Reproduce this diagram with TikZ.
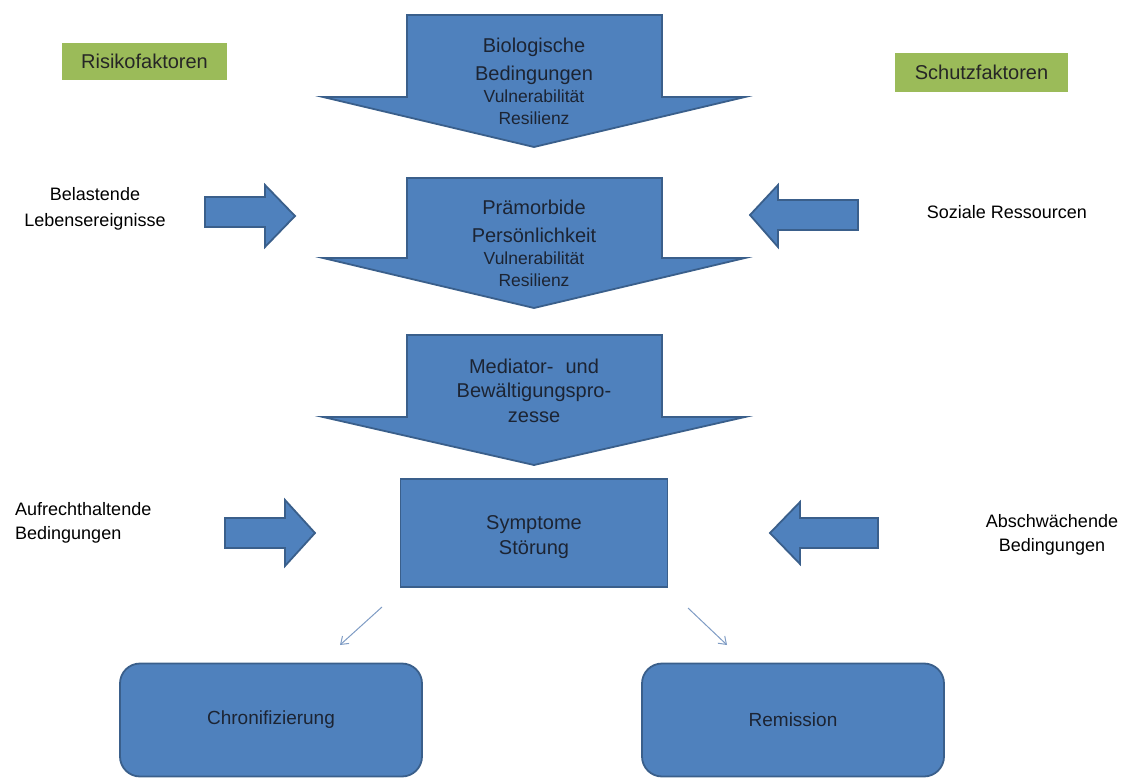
\documentclass[tikz,border=0pt]{standalone}
\usepackage{fontspec}
\setmainfont{Liberation Sans}
\definecolor{bfill}{HTML}{4F81BD}
\definecolor{bline}{HTML}{3A5F8B}
\definecolor{gfill}{HTML}{9BBB59}
\definecolor{txt}{HTML}{1C2433}
\definecolor{thin}{HTML}{7F9CC4}
\tikzset{
  blueshape/.style={fill=bfill, draw=bline, line width=1.8pt, line join=miter},
  big/.style={font=\fontsize{20}{24}\selectfont, text=txt, anchor=base, inner sep=0pt},
  small/.style={font=\fontsize{17.5}{21}\selectfont, text=txt, anchor=base, inner sep=0pt},
  side/.style={font=\fontsize{18}{21}\selectfont, text=black, anchor=base, inner sep=0pt},
  greenlabel/.style={fill=gfill, text=black!85, font=\fontsize{20}{24}\selectfont, minimum height=37pt, inner sep=0pt},
  roundbox/.style={fill=bfill, draw=bline, line width=1.8pt, rounded corners=20pt, minimum width=302pt, minimum height=113pt, font=\fontsize{19}{23}\selectfont, text=txt, inner sep=0pt},
  thinarrow/.style={draw=thin, line width=1pt, -{Straight Barb[length=7pt, width=10pt]}},
}
\usetikzlibrary{arrows.meta}
\begin{document}
\begin{tikzpicture}[x=1pt, y=-1pt]
\useasboundingbox (0,0) rectangle (1125,778);

% green labels
\node[greenlabel, minimum width=165pt] (risk) at (144.5,61.5) {Risikofaktoren};
\node[greenlabel, minimum width=173pt, minimum height=39pt] (schutz) at (981.5,72.5) {Schutzfaktoren};

% big arrow 1
\draw[blueshape] (407,15) -- (662,15) -- (662,97) -- (745,97) -- (534,147) -- (323,97) -- (407,97) -- cycle;
\node[big] (a1l1) at (534,53) {Biologische};
\node[big] (a1l2) at (534,81) {Bedingungen};
\node[small] (a1l3) at (534,103) {Vulnerabilität};
\node[small] (a1l4) at (534,125) {Resilienz};

% big arrow 2
\draw[blueshape] (407,178) -- (662,178) -- (662,258) -- (745,258) -- (534,308) -- (323,258) -- (407,258) -- cycle;
\node[big] (a2l1) at (534,215) {Prämorbide};
\node[big] (a2l2) at (534,243) {Persönlichkeit};
\node[small] (a2l3) at (534,265) {Vulnerabilität};
\node[small] (a2l4) at (534,287) {Resilienz};

% big arrow 3
\draw[blueshape] (407,335) -- (662,335) -- (662,417) -- (745,417) -- (534,465) -- (323,417) -- (407,417) -- cycle;
\node[big] (a3l1) at (534,373) {Mediator-\hspace{0.6em}und};
\node[big] (a3l2) at (534,397) {Bewältigungspro-};
\node[big] (a3l3) at (534,422) {zesse};

% symptom box
\node[fill=bfill, draw=bline, line width=1.8pt, minimum width=267pt, minimum height=108pt, inner sep=0pt] (sym) at (534,533) {};
\node[big] (sym1) at (534,529) {Symptome};
\node[big] (sym2) at (534,554) {Störung};

% side arrows row 1
\draw[blueshape] (205,197) -- (265,197) -- (265,185) -- (295,216) -- (265,247) -- (265,227) -- (205,227) -- cycle;
\draw[blueshape] (858,200) -- (778,200) -- (778,185) -- (750,215) -- (778,247) -- (778,230) -- (858,230) -- cycle;
% side arrows row 2
\draw[blueshape] (225,518) -- (285,518) -- (285,500) -- (315,533) -- (285,566) -- (285,548) -- (225,548) -- cycle;
\draw[blueshape] (878,518) -- (800,518) -- (800,502) -- (770,533) -- (800,564) -- (800,548) -- (878,548) -- cycle;

% side texts
\node[side] (bel1) at (95,201) {Belastende};
\node[side] (bel2) at (95,227) {Lebensereignisse};
\node[side] (soz) at (1007,219) {Soziale Ressourcen};
\node[side, anchor=base west] (auf1) at (15,515) {Aufrechthaltende};
\node[side, anchor=base west] (auf2) at (15,539) {Bedingungen};
\node[side] (abs1) at (1052,527) {Abschwächende};
\node[side] (abs2) at (1052,551) {Bedingungen};

% outcome boxes
\node[roundbox] (chron) at (271,720) {Chronifizierung};
\node[roundbox] (rem) at (793,720) {Remission};

% thin arrows
\coordinate (c1s) at (382,607);
\coordinate (c1e) at (340,645);
\coordinate (c2s) at (688,608);
\coordinate (c2e) at (727,645);
\draw[thinarrow] (c1s) -- (c1e);
\draw[thinarrow] (c2s) -- (c2e);
\end{tikzpicture}
\end{document}
